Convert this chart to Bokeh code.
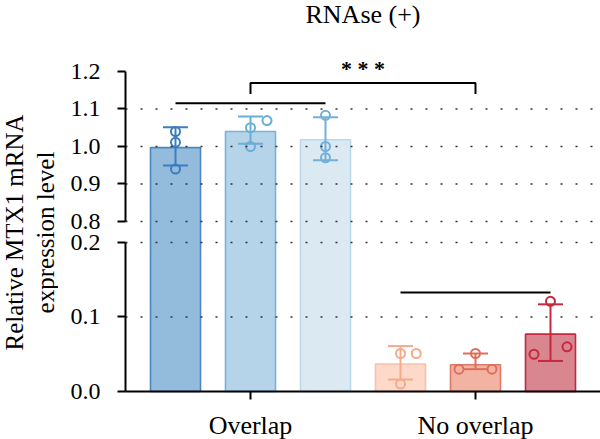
import numpy as np
from math import pi
from bokeh.plotting import figure
from bokeh.layouts import row
from bokeh.models import (Range1d, FixedTicker, Label, LabelSet, LinearAxis, ColumnDataSource)
from bokeh.embed import file_html
from bokeh.resources import INLINE
from bokeh.core.properties import value

# ---------------- data ----------------
title_text = "RNAse (+)"
ylabel_lines = ["Relative MTX1 mRNA", "expression level"]
groups = ["Overlap", "No overlap"]
bars_per_group = 3
means = [0.997, 1.040, 1.018, 0.037, 0.036, 0.077]
err_low = [0.949, 1.007, 0.963, 0.016, 0.030, 0.041]
err_high = [1.051, 1.080, 1.078, 0.061, 0.051, 0.117]
pts_bar = [0, 0, 0, 1, 1, 1, 2, 2, 2, 3, 3, 3, 4, 4, 4, 5, 5, 5]
pts_y = [1.040, 1.011, 0.940, 1.069, 1.050, 1.000, 1.083, 1.000, 0.970,
         0.051, 0.051, 0.010, 0.051, 0.030, 0.030, 0.121, 0.050, 0.060]
pts_jitter = [0, 0, 0, 0.22, 0, 0, 0, 0, 0,
              0, 0.21, 0, 0, -0.22, 0.22, 0, -0.22, 0.22]
top_ticks = [0.8, 0.9, 1.0, 1.1, 1.2]
bottom_ticks = [0.0, 0.1, 0.2]
top_grid = [0.8, 0.9, 1.0, 1.1]
bottom_grid = [0.1, 0.2]
axis_break = 0.5
within_group_y = [1.115, 0.133]
between_bracket = [1.14, 1.169]
sig_text = "* * *"
sig_y = 1.208
title_y = 1.352

# ---------------- styles ----------------
fills = ["#93bcdc", "#b5d4ea", "#dbe9f3", "#fcd9c9", "#f2b3a3", "#da8690"]
edges = ["#4a87c2", "#78b2d9", "#bcd9ec", "#f8c0aa", "#df7866", "#c4293f"]
errc = ["#3d7cbd", "#6aaed6", "#72b0d8", "#f5aa8d", "#de6e5c", "#c4293f"]
FONT = "Liberation Serif"

xs = np.arange(len(means), dtype=float)
means_a = np.array(means)
group_centers = [float(xs[i * bars_per_group:(i + 1) * bars_per_group].mean()) for i in range(len(groups))]
pts_x = xs[pts_bar] + np.array(pts_jitter)
pts_y_a = np.array(pts_y)
pts_col = np.array([errc[b] for b in pts_bar])

bar_width = 0.6667
axis_x = xs[0] - bar_width          # where the y axis stands
x_range = Range1d(-1.56, 5.6667)
bot_range = Range1d(-0.064430, 0.524832)
top_range = Range1d(0.218667, 1.389333)
# value of the lower segment's zero line expressed on the upper segment's scale
zero_on_top = top_range.start + (0.0 - bot_range.start) * (
    (top_range.end - top_range.start) / (bot_range.end - bot_range.start))

p = figure(width=542, height=439, x_range=x_range, y_range=bot_range,
           toolbar_location=None, output_backend="svg",
           x_axis_location=None, y_axis_location=None, min_border=0)
p.extra_y_ranges = {"top": top_range}
p.outline_line_color = None
p.background_fill_color = "white"
p.border_fill_color = "white"
p.grid.visible = False


def style_axis(ax):
    ax.axis_line_width = 2
    ax.axis_line_color = "black"
    ax.major_tick_line_width = 2
    ax.major_tick_line_color = "black"
    ax.major_tick_out = 8
    ax.major_tick_in = 0
    ax.minor_tick_line_color = None
    ax.major_label_text_alpha = 0
    ax.major_label_text_font_size = "1px"


ax_bot = LinearAxis(ticker=FixedTicker(ticks=bottom_ticks), bounds=(bottom_ticks[0], bottom_ticks[-1]),
                    fixed_location=axis_x)
style_axis(ax_bot)
p.add_layout(ax_bot, "left")
ax_top = LinearAxis(y_range_name="top", ticker=FixedTicker(ticks=top_ticks),
                    bounds=(top_ticks[0], top_ticks[-1]), fixed_location=axis_x)
style_axis(ax_top)
p.add_layout(ax_top, "left")
ax_x = LinearAxis(ticker=FixedTicker(ticks=group_centers), bounds=(axis_x, x_range.end),
                  fixed_location=0.0)
style_axis(ax_x)
p.add_layout(ax_x, "below")

# bars, error bars, points
for is_top, rname in ((True, "top"), (False, "default")):
    m = (means_a > axis_break) == is_top
    p.vbar(x=xs[m], width=bar_width, top=means_a[m], bottom=zero_on_top if is_top else 0.0,
           fill_color=list(np.array(fills)[m]), line_color=list(np.array(edges)[m]),
           line_width=1.6, y_range_name=rname)
    lo = np.array(err_low)[m]
    hi = np.array(err_high)[m]
    ec = list(np.array(errc)[m])
    p.segment(x0=xs[m], y0=lo, x1=xs[m], y1=hi, line_color=ec, line_width=2, y_range_name=rname)
    p.scatter(x=xs[m], y=lo, marker="dash", size=25, line_color=ec, line_width=2, y_range_name=rname)
    p.scatter(x=xs[m], y=hi, marker="dash", size=25, line_color=ec, line_width=2, y_range_name=rname)
    pm = (pts_y_a > axis_break) == is_top
    p.scatter(x=pts_x[pm], y=pts_y_a[pm], marker="circle", size=9, fill_color=None,
              line_color=list(pts_col[pm]), line_width=2, y_range_name=rname)

# dotted grid lines (over the bars)
for ticks, rname in ((top_grid, "top"), (bottom_grid, "default")):
    n = len(ticks)
    p.segment(x0=[axis_x] * n, y0=ticks, x1=[x_range.end] * n, y1=ticks,
              line_color="#333333", line_dash="2 13", line_width=1.6, y_range_name=rname)

# significance marks
g0 = slice(0, bars_per_group)
g1 = slice(bars_per_group, 2 * bars_per_group)
p.line(x=[xs[g0][0], xs[g0][-1]], y=[within_group_y[0]] * 2, line_color="black",
       line_width=2, y_range_name="top")
p.line(x=[group_centers[0], group_centers[0], group_centers[1], group_centers[1]],
       y=[between_bracket[0], between_bracket[1], between_bracket[1], between_bracket[0]],
       line_color="black", line_width=2, y_range_name="top")
p.line(x=[xs[g1][0], xs[g1][-1]], y=[within_group_y[1]] * 2, line_color="black", line_width=2)
p.text(x=[float(np.mean(group_centers))], y=[sig_y], text=[sig_text], text_align="center",
       text_baseline="alphabetic", text_font=value(FONT), text_font_size="22px",
       text_font_style="bold", text_color="black", y_range_name="top")
p.text(x=[(axis_x + x_range.end) / 2], y=[title_y], text=[title_text],
       text_align="center", text_baseline="alphabetic", text_font=value(FONT),
       text_font_size="26px", text_color="black", y_range_name="top")

# tick labels
for ticks, rname in ((top_ticks, "top"), (bottom_ticks, "default")):
    src = ColumnDataSource(dict(x=[axis_x] * len(ticks), y=ticks, t=["%.1f" % v for v in ticks]))
    p.add_layout(LabelSet(source=src, x="x", y="y", text="t", y_range_name=rname, x_offset=-25,
                          text_align="right", text_baseline="middle", text_font=value(FONT),
                          text_font_size="24px", text_color="black"))
gsrc = ColumnDataSource(dict(x=group_centers, y=[0.0] * len(groups), t=groups))
p.add_layout(LabelSet(source=gsrc, x="x", y="y", text="t", y_offset=-20,
                      text_align="center", text_baseline="top", text_font=value(FONT),
                      text_font_size="26px", text_color="black"))

# ---------------- y label panel ----------------
lab = figure(width=58, height=439, x_range=Range1d(0, 58), y_range=Range1d(0, 439),
             toolbar_location=None, output_backend="svg", x_axis_location=None,
             y_axis_location=None, min_border=0)
lab.outline_line_color = None
lab.grid.visible = False
for txt, bx in zip(ylabel_lines, [14, 45]):
    lab.add_layout(Label(x=bx, y=207, text=txt, angle=pi / 2, text_align="center",
                         text_baseline="alphabetic", text_font=FONT,
                         text_font_size="25px", text_color="black"))

layout = row(lab, p, spacing=0)
open("out.html", "w").write(file_html(layout, INLINE))
